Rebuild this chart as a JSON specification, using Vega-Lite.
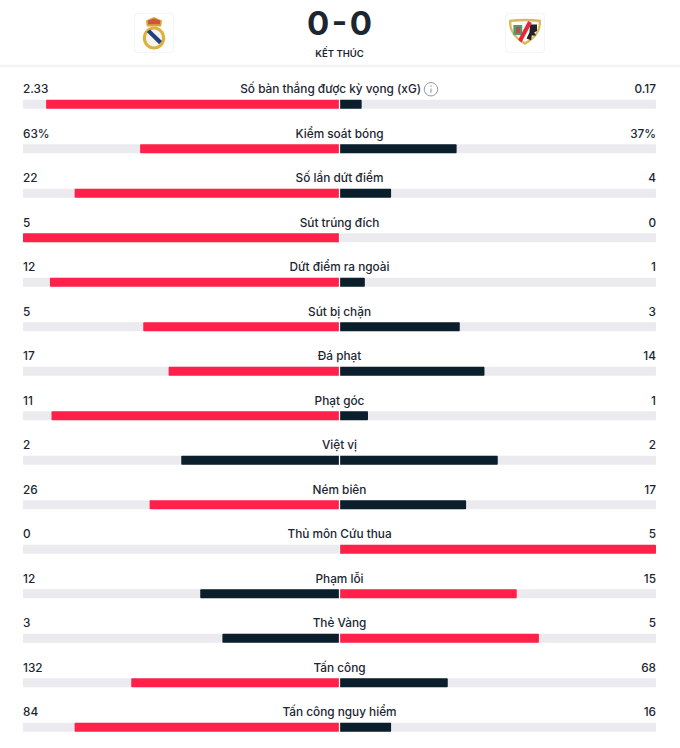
{
  "$schema": "https://vega.github.io/schema/vega-lite/v6.json",
  "background": "#ffffff",
  "padding": 0,
  "bounds": "flush",
  "spacing": 0,
  "resolve": {"scale": {"color": "independent", "shape": "independent"}},
  "config": {
    "view": {"stroke": null},
    "text": {"font": "Inter", "color": "#1b2631"}
  },
  "vconcat": [
    {
      "width": 680,
      "height": 69,
      "data": {"name": "header"},
      "encoding": {
        "y": {"field": "line", "type": "nominal", "axis": null, "scale": {"type": "point", "domain": ["crest", "status", "rule"], "range": [33, 66], "padding": 0}}
      },
      "resolve": {"scale": {"x": "independent"}},
      "layer": [
        {
          "transform": [{"filter": "datum.line == 'rule'"}],
          "mark": {"type": "bar", "color": "#f3f3f5", "size": 2.5},
          "encoding": {
            "x": {"datum": 0, "type": "quantitative", "axis": null, "scale": {"domain": [0, 1], "nice": false}},
            "x2": {"datum": 1}
          }
        },
        {
          "transform": [{"filter": "datum.part != null"}],
          "mark": {"type": "point", "filled": true, "opacity": 1, "size": 1600, "strokeWidth": 0},
          "encoding": {
            "x": {"field": "side", "type": "nominal", "axis": null, "scale": {"type": "point", "domain": ["home", "match", "away"], "range": [154, 525], "padding": 0}},
            "shape": {
              "field": "part",
              "type": "nominal",
              "legend": null,
              "scale": {
                "domain": ["card_edge", "card", "rm_ring", "rm_inner", "rm_band", "rm_crown", "rm_cap", "rv_shield", "rv_inner", "rv_green", "rv_block", "rv_slash", "rv_letters"],
                "range": [
                  "M-0.8,-1H0.8Q1,-1 1,-0.8V0.8Q1,1 0.8,1H-0.8Q-1,1 -1,0.8V-0.8Q-1,-1 -0.8,-1Z",
                  "M-0.76,-0.95H0.76Q0.95,-0.95 0.95,-0.76V0.76Q0.95,0.95 0.76,0.95H-0.76Q-0.95,0.95 -0.95,0.76V-0.76Q-0.95,-0.95 -0.76,-0.95Z",
                  "M-0.56,0.25A0.56,0.58 0 1,1 0.56,0.25A0.56,0.58 0 1,1 -0.56,0.25Z",
                  "M-0.4,0.25A0.4,0.42 0 1,1 0.4,0.25A0.4,0.42 0 1,1 -0.4,0.25Z",
                  "M-0.36,-0.05L-0.2,-0.18L0.4,0.4L0.26,0.56Z",
                  "M-0.36,-0.32L-0.4,-0.62L0,-0.8L0.4,-0.62L0.36,-0.32Z",
                  "M-0.3,-0.44L-0.3,-0.62L0,-0.72L0.3,-0.62L0.3,-0.44Z",
                  "M-0.8,-0.66Q0,-0.76 0.8,-0.66Q0.86,0.12 0,0.6Q-0.86,0.12 -0.8,-0.66Z",
                  "M-0.68,-0.55Q0,-0.63 0.68,-0.55Q0.72,0.06 0,0.45Q-0.72,0.06 -0.68,-0.55Z",
                  "M-0.58,-0.4H-0.14V0.1H-0.58Z",
                  "M-0.44,-0.3H-0.26V0H-0.44Z",
                  "M0.16,-0.6L0.34,-0.5L-0.18,0.48L-0.34,0.34Z",
                  "M0.26,-0.42H0.6V-0.1L0.46,-0.02L0.56,0.12H0.34L0.3,0.36L0.08,0.28L0.22,-0.02Z"
                ]
              }
            },
            "color": {
              "field": "part",
              "type": "nominal",
              "legend": null,
              "scale": {
                "domain": ["card_edge", "card", "rm_ring", "rm_inner", "rm_band", "rm_crown", "rm_cap", "rv_shield", "rv_inner", "rv_green", "rv_block", "rv_slash", "rv_letters"],
                "range": ["#f5f5f7", "#ffffff", "#dcb13c", "#f6f4ee", "#22407e", "#d9a53a", "#c9583c", "#d9b95c", "#fbfaf5", "#4f9a72", "#c0483f", "#e1293a", "#23212a"]
              }
            }
          }
        },
        {
          "transform": [{"filter": "datum.line == 'crest' && datum.score != null"}],
          "mark": {"type": "text", "fontSize": 33, "fontWeight": 700, "yOffset": -8, "align": "center", "baseline": "middle"},
          "encoding": {
            "x": {"field": "side", "type": "nominal", "axis": null, "scale": {"type": "point", "domain": ["home", "match", "away"], "range": [154, 525], "padding": 0}},
            "text": {"field": "score"}
          }
        },
        {
          "transform": [{"filter": "datum.line == 'status'"}],
          "mark": {"type": "text", "fontSize": 9.5, "fontWeight": 600, "yOffset": 4, "align": "center", "baseline": "middle"},
          "encoding": {
            "x": {"field": "side", "type": "nominal", "axis": null, "scale": {"type": "point", "domain": ["home", "match", "away"], "range": [154, 525], "padding": 0}},
            "text": {"field": "score"}
          }
        }
      ]
    },
    {
      "width": 680,
      "height": 667.5,
      "data": {"name": "stats"},
      "encoding": {
        "y": {"field": "metric", "type": "nominal", "axis": null, "sort": null, "scale": {"paddingInner": 0, "paddingOuter": 0}}
      },
      "layer": [
        {
          "mark": {"type": "bar", "color": "#ebebef", "size": 9, "yOffset": 13, "cornerRadius": 1},
          "encoding": {
            "x": {"datum": -1, "type": "quantitative", "axis": null, "scale": {"domain": [-1.0727, 1.0758], "nice": false, "zero": false}},
            "x2": {"datum": 1}
          }
        },
        {
          "mark": {"type": "bar", "size": 9, "yOffset": 13, "cornerRadius": 1},
          "encoding": {
            "x": {"field": "home_bar", "type": "quantitative", "axis": null, "scale": {"domain": [-1.0727, 1.0758], "nice": false, "zero": false}},
            "x2": {"datum": 0},
            "color": {"field": "home_state", "type": "nominal", "legend": null, "scale": {"domain": ["leads", "trails"], "range": ["#ff2149", "#0b1e2c"]}}
          }
        },
        {
          "mark": {"type": "bar", "size": 9, "yOffset": 13, "cornerRadius": 1},
          "encoding": {
            "x": {"field": "away_bar", "type": "quantitative", "axis": null, "scale": {"domain": [-1.0727, 1.0758], "nice": false, "zero": false}},
            "x2": {"datum": 0},
            "color": {"field": "away_state", "type": "nominal", "legend": null, "scale": {"domain": ["leads", "trails"], "range": ["#ff2149", "#0b1e2c"]}}
          }
        },
        {
          "mark": {"type": "bar", "color": "#ffffff", "size": 10, "yOffset": 13},
          "encoding": {
            "x": {"datum": -0.002, "type": "quantitative", "axis": null, "scale": {"domain": [-1.0727, 1.0758], "nice": false, "zero": false}},
            "x2": {"datum": 0.002}
          }
        },
        {
          "transform": [{"filter": "datum.info == null"}],
          "mark": {"type": "text", "fontSize": 11.8, "fontWeight": 500, "align": "center", "baseline": "middle", "yOffset": -2},
          "encoding": {
            "x": {"datum": 0, "type": "quantitative", "axis": null, "scale": {"domain": [-1.0727, 1.0758], "nice": false, "zero": false}},
            "text": {"field": "metric"}
          }
        },
        {
          "transform": [{"filter": "datum.info != null"}],
          "mark": {"type": "text", "fontSize": 11.8, "fontWeight": 500, "align": "center", "baseline": "middle", "yOffset": -2},
          "encoding": {
            "x": {"datum": -0.028, "type": "quantitative", "axis": null, "scale": {"domain": [-1.0727, 1.0758], "nice": false, "zero": false}},
            "text": {"field": "metric"}
          }
        },
        {
          "mark": {"type": "text", "fontSize": 11.8, "fontWeight": 500, "align": "left", "baseline": "middle", "yOffset": -2},
          "encoding": {
            "x": {"datum": -1, "type": "quantitative", "axis": null, "scale": {"domain": [-1.0727, 1.0758], "nice": false, "zero": false}},
            "text": {"field": "home"}
          }
        },
        {
          "mark": {"type": "text", "fontSize": 11.8, "fontWeight": 500, "align": "right", "baseline": "middle", "yOffset": -2},
          "encoding": {
            "x": {"datum": 1, "type": "quantitative", "axis": null, "scale": {"domain": [-1.0727, 1.0758], "nice": false, "zero": false}},
            "text": {"field": "away"}
          }
        },
        {
          "transform": [{"filter": "datum.info != null"}],
          "mark": {"type": "point", "filled": false, "opacity": 1, "color": "#8b9095", "strokeWidth": 1, "size": 196, "yOffset": -2, "shape": "M-0.95,0A0.95,0.95 0 1,1 0.95,0A0.95,0.95 0 1,1 -0.95,0ZM0,-0.1V0.5M0,-0.55V-0.35"},
          "encoding": {
            "x": {"field": "info", "type": "quantitative", "axis": null, "scale": {"domain": [-1.0727, 1.0758], "nice": false, "zero": false}}
          }
        }
      ]
    }
  ],
  "datasets": {
    "header": [
      {"side": "home", "line": "crest", "part": "card_edge"},
      {"side": "home", "line": "crest", "part": "card"},
      {"side": "home", "line": "crest", "part": "rm_crown"},
      {"side": "home", "line": "crest", "part": "rm_cap"},
      {"side": "home", "line": "crest", "part": "rm_ring"},
      {"side": "home", "line": "crest", "part": "rm_inner"},
      {"side": "home", "line": "crest", "part": "rm_band"},
      {"side": "away", "line": "crest", "part": "card_edge"},
      {"side": "away", "line": "crest", "part": "card"},
      {"side": "away", "line": "crest", "part": "rv_shield"},
      {"side": "away", "line": "crest", "part": "rv_inner"},
      {"side": "away", "line": "crest", "part": "rv_green"},
      {"side": "away", "line": "crest", "part": "rv_block"},
      {"side": "away", "line": "crest", "part": "rv_letters"},
      {"side": "away", "line": "crest", "part": "rv_slash"},
      {"side": "match", "line": "crest", "score": "0\u200a-\u200a0"},
      {"side": "match", "line": "status", "score": "KẾT THÚC"},
      {"side": "match", "line": "rule"}
    ],
    "stats": [
      {"metric": "Số bàn thắng được kỳ vọng (xG)", "home": "2.33", "away": "0.17", "home_bar": -0.927, "away_bar": 0.07, "home_state": "leads", "away_state": "trails", "info": 0.289},
      {"metric": "Kiểm soát bóng", "home": "63%", "away": "37%", "home_bar": -0.63, "away_bar": 0.37, "home_state": "leads", "away_state": "trails"},
      {"metric": "Số lần dứt điểm", "home": "22", "away": "4", "home_bar": -0.837, "away_bar": 0.163, "home_state": "leads", "away_state": "trails"},
      {"metric": "Sút trúng đích", "home": "5", "away": "0", "home_bar": -1, "away_bar": 0, "home_state": "leads", "away_state": "trails"},
      {"metric": "Dứt điểm ra ngoài", "home": "12", "away": "1", "home_bar": -0.915, "away_bar": 0.08, "home_state": "leads", "away_state": "trails"},
      {"metric": "Sút bị chặn", "home": "5", "away": "3", "home_bar": -0.62, "away_bar": 0.38, "home_state": "leads", "away_state": "trails"},
      {"metric": "Đá phạt", "home": "17", "away": "14", "home_bar": -0.54, "away_bar": 0.458, "home_state": "leads", "away_state": "trails"},
      {"metric": "Phạt góc", "home": "11", "away": "1", "home_bar": -0.91, "away_bar": 0.09, "home_state": "leads", "away_state": "trails"},
      {"metric": "Việt vị", "home": "2", "away": "2", "home_bar": -0.5, "away_bar": 0.5, "home_state": "trails", "away_state": "trails"},
      {"metric": "Ném biên", "home": "26", "away": "17", "home_bar": -0.6, "away_bar": 0.4, "home_state": "leads", "away_state": "trails"},
      {"metric": "Thủ môn Cứu thua", "home": "0", "away": "5", "home_bar": 0, "away_bar": 1, "home_state": "trails", "away_state": "leads"},
      {"metric": "Phạm lỗi", "home": "12", "away": "15", "home_bar": -0.44, "away_bar": 0.56, "home_state": "trails", "away_state": "leads"},
      {"metric": "Thẻ Vàng", "home": "3", "away": "5", "home_bar": -0.37, "away_bar": 0.63, "home_state": "trails", "away_state": "leads"},
      {"metric": "Tấn công", "home": "132", "away": "68", "home_bar": -0.658, "away_bar": 0.342, "home_state": "leads", "away_state": "trails"},
      {"metric": "Tấn công nguy hiểm", "home": "84", "away": "16", "home_bar": -0.837, "away_bar": 0.163, "home_state": "leads", "away_state": "trails"}
    ]
  }
}
